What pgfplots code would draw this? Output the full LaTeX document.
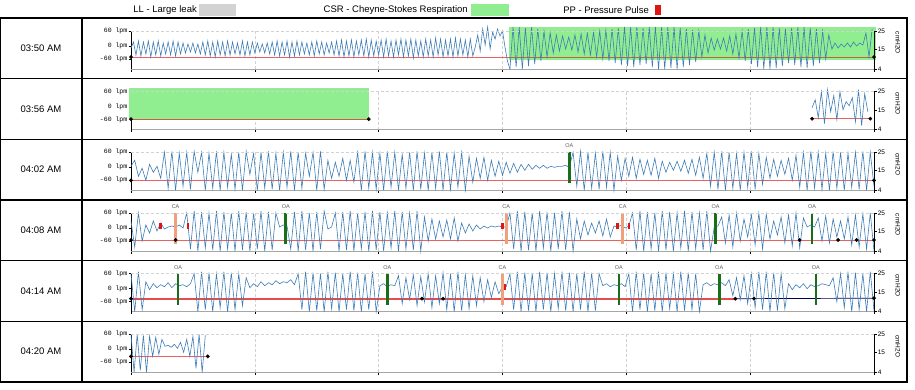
\documentclass[border=0pt]{standalone}
\usepackage{pgfplots}
\pgfplotsset{compat=1.18}
\usepackage{pgfplotstable}
\usepackage{fontspec}
\setmainfont{Liberation Sans}
\newfontfamily\monofont{Liberation Mono}
\definecolor{wavecol}{RGB}{62,124,182}
\definecolor{csrcol}{RGB}{144,238,144}
\definecolor{llgrey}{RGB}{211,211,211}
\definecolor{oagreen}{RGB}{25,110,25}
\definecolor{casalmon}{RGB}{240,160,125}
\definecolor{ppred}{RGB}{225,20,20}
\definecolor{prescol}{RGB}{225,45,45}
\newcommand{\tfont}{\fontsize{6.5}{7}\selectfont}
\newcommand{\bfontsz}{\fontsize{9.5}{11}\selectfont}

% ---------------- data (flow, plotted in axis units 0..42) ----------------
\pgfplotstableread[header=false,row sep=\\]{
21\\27\\14\\28\\13\\27\\15\\28\\12\\27\\
14\\28\\13\\26\\15\\27\\14\\28\\13\\27\\
15\\26\\16\\25\\17\\26\\16\\25\\15\\27\\
14\\28\\13\\27\\12\\28\\14\\27\\13\\28\\
14\\27\\15\\26\\14\\28\\13\\27\\14\\27\\
16\\26\\17\\25\\16\\26\\15\\27\\14\\28\\
13\\27\\14\\28\\12\\27\\13\\28\\14\\27\\
15\\26\\14\\27\\13\\28\\15\\27\\14\\26\\
16\\27\\14\\28\\13\\29\\12\\28\\13\\29\\
12\\28\\14\\29\\13\\30\\12\\29\\13\\28\\
14\\29\\12\\30\\13\\28\\12\\29\\14\\30\\
12\\29\\13\\30\\11\\29\\13\\28\\12\\30\\
13\\29\\12\\31\\14\\30\\12\\29\\13\\30\\
12\\31\\13\\30\\14\\29\\12\\30\\13\\
22\\34\\18\\40\\24\\42\\20\\37\\30\\40\\33\\38\\22\\8\\0\\
}\rA
\pgfplotstableread[header=false,row sep=\\]{
0\\
42\\2\\42\\0\\41\\3\\42\\5\\40\\8\\38\\
12\\36\\16\\34\\18\\33\\20\\32\\19\\34\\17\\35\\15\\36\\14\\37\\12\\38\\
10\\39\\8\\40\\6\\41\\4\\42\\3\\42\\2\\42\\4\\41\\5\\42\\
2\\42\\0\\42\\0\\42\\1\\42\\0\\41\\2\\40\\4\\39\\7\\38\\
12\\34\\16\\31\\19\\30\\20\\31\\18\\33\\15\\35\\
11\\38\\8\\40\\5\\41\\2\\42\\0\\42\\0\\42\\1\\41\\3\\40\\6\\41\\4\\42\\
2\\42\\1\\41\\3\\40\\6\\38\\10\\34\\
20\\26\\21\\25\\22\\26\\22\\27\\23\\26\\24\\
36\\12\\40\\
}\rC
\pgfplotstableread[header=false,row sep=\\]{
22\\30\\12\\38\\6\\40\\18\\34\\10\\38\\20\\28\\24\\32\\8\\40\\4\\36\\18\\
}\rB
\pgfplotstableread[header=false,row sep=\\]{
24\\30\\14\\22\\10\\26\\18\\24\\12\\
38\\2\\39\\0\\37\\4\\38\\1\\39\\18\\38\\0\\37\\2\\39\\0\\38\\3\\36\\1\\38\\0\\39\\16\\37\\0\\38\\2\\39\\1\\37\\0\\38\\3\\39\\0\\38\\2\\37\\14\\38\\0\\39\\1\\
30\\12\\28\\14\\32\\10\\30\\8\\
38\\0\\39\\2\\38\\1\\37\\0\\39\\3\\38\\0\\36\\2\\38\\0\\39\\1\\37\\0\\38\\2\\39\\0\\38\\1\\37\\3\\38\\0\\
34\\8\\32\\12\\33\\10\\30\\14\\
29\\15\\28\\17\\27\\18\\26\\20\\26\\21\\25\\22\\25\\22\\24\\23\\24\\
24\\25\\23\\
38\\4\\39\\0\\38\\2\\37\\1\\39\\3\\38\\0\\
34\\10\\32\\14\\33\\12\\31\\16\\30\\15\\32\\12\\
29\\18\\28\\20\\29\\19\\30\\17\\31\\15\\33\\12\\
37\\4\\38\\1\\39\\0\\38\\2\\37\\0\\38\\3\\39\\1\\37\\
6\\33\\12\\31\\14\\30\\16\\32\\10\\35\\
3\\38\\0\\39\\2\\38\\1\\37\\0\\39\\2\\38\\0\\37\\3\\38\\1\\39\\0\\38\\4\\
}\rD
\pgfplotstableread[header=false,row sep=\\]{
30\\4\\38\\10\\26\\
18\\30\\20\\28\\22\\
24\\25\\24\\26\\23\\
38\\2\\40\\0\\39\\3\\38\\1\\40\\0\\39\\2\\38\\0\\40\\1\\39\\0\\38\\2\\40\\0\\39\\1\\38\\
24\\26\\25\\
2\\39\\0\\40\\1\\38\\0\\39\\2\\40\\22\\24\\38\\0\\39\\1\\40\\0\\38\\2\\39\\0\\40\\
1\\39\\0\\38\\3\\40\\0\\39\\2\\38\\1\\40\\0\\
34\\10\\32\\12\\30\\14\\31\\12\\33\\10\\
28\\18\\27\\20\\26\\22\\25\\23\\25\\24\\25\\
24\\24\\
38\\2\\40\\0\\39\\1\\38\\0\\40\\3\\39\\0\\38\\2\\40\\1\\39\\0\\
32\\12\\30\\16\\28\\18\\30\\15\\32\\14\\
25\\24\\26\\23\\25\\
38\\1\\40\\0\\39\\2\\38\\0\\40\\1\\39\\0\\38\\3\\40\\0\\39\\2\\38\\1\\40\\0\\
24\\25\\
34\\8\\36\\4\\38\\10\\32\\14\\36\\6\\38\\2\\37\\12\\30\\16\\34\\8\\36\\5\\38\\3\\33\\
24\\26\\24\\
33\\10\\35\\8\\32\\14\\30\\12\\34\\6\\36\\4\\37\\2\\38\\
0\\
}\rE
\pgfplotstableread[header=false,row sep=\\]{
38\\0\\40\\2\\30\\
22\\28\\24\\27\\25\\29\\24\\28\\26\\27\\25\\28\\
38\\0\\40\\2\\39\\0\\38\\4\\40\\0\\39\\2\\38\\6\\34\\
24\\28\\25\\30\\26\\29\\27\\31\\28\\30\\29\\32\\27\\
38\\2\\40\\0\\39\\1\\38\\0\\40\\3\\39\\0\\38\\2\\40\\1\\39\\0\\38\\2\\40\\0\\
26\\28\\25\\27\\26\\
36\\8\\34\\12\\37\\6\\35\\10\\38\\4\\36\\8\\
39\\2\\38\\0\\40\\1\\37\\3\\36\\6\\34\\10\\32\\14\\30\\18\\
25\\25\\
38\\2\\40\\0\\39\\1\\38\\0\\40\\2\\39\\0\\38\\3\\40\\1\\39\\0\\38\\2\\40\\0\\39\\1\\38\\
26\\28\\25\\27\\26\\28\\25\\
38\\0\\40\\2\\39\\0\\38\\1\\40\\0\\39\\3\\38\\0\\40\\1\\39\\2\\38\\0\\
27\\29\\26\\28\\27\\29\\26\\
32\\16\\34\\12\\36\\8\\38\\4\\40\\2\\40\\0\\39\\1\\38\\3\\
28\\22\\27\\24\\28\\23\\27\\25\\26\\28\\27\\26\\
34\\10\\38\\4\\40\\0\\39\\2\\38\\0\\40\\1\\
}\rF
\pgfplotstableread[header=false,row sep=\\]{
38\\0\\38\\2\\37\\0\\36\\16\\35\\18\\33\\26\\27\\25\\28\\24\\30\\20\\33\\16\\36\\4\\38\\0\\37\\
}\rG

\tikzset{evl/.style={font=\fontsize{5.5}{6}\selectfont, text=black!65, inner sep=0pt}}
\pgfplotsset{
  rowaxis/.style={
    scale only axis, width=743pt, height=38pt,
    xmin=0, xmax=6, ymin=0, ymax=38, clip=false,
    axis x line*=bottom, axis y line*=left,
    x axis line style={draw=gray!70, line width=0.9pt, -},
    y axis line style={draw=black, line width=0.6pt, -},
    xtick={0,1,2,3,4,5,6}, xticklabels={},
    xmajorgrids, major grid style={densely dashed, gray!35, line width=0.5pt},
    ytick={10,23,38}, yticklabels={-60 lpm,0 lpm,60 lpm},
    tick align=outside, major tick length=2.5pt,
    tick style={black, line width=0.5pt},
    yticklabel style={font=\monofont\tfont, inner sep=1pt},
    anchor=south west,
  },
  wave/.style={color=wavecol, line width=0.6pt, no marks},
  pres/.style={color=prescol, opacity=0.75, line width=0.8pt, no marks},
  dots/.style={only marks, mark=*, mark size=1.7pt, black},
  csrfill/.style={fill=csrcol, draw=none, no marks},
}
\newcommand{\OA}[1]{\addplot[oagreen, line width=2.6pt, no marks] coordinates {(#1,7) (#1,38)};
  \node[evl] at (axis cs:#1,44.5) {OA};}
\newcommand{\CA}[1]{\addplot[casalmon, line width=2.6pt, no marks] coordinates {(#1,7) (#1,38)};
  \node[evl] at (axis cs:#1,44.5) {CA};}
\newcommand{\PP}[1]{\addplot[ppred, line width=2.6pt, no marks] coordinates {(#1,22) (#1,28)};}
\newcommand{\RA}{%
  \addplot[gray!35, densely dashed, line width=0.5pt, no marks] coordinates {(0,38) (6,38)};
  \draw[black, line width=0.6pt] (axis cs:6,0) -- (axis cs:6,38);
  \draw[black, line width=0.5pt] (axis cs:6,0) -- ++(2.5pt,0pt) node[right, inner sep=1pt, font=\tfont]{4};
  \draw[black, line width=0.5pt] (axis cs:6,19.9) -- ++(2.5pt,0pt) node[right, inner sep=1pt, font=\tfont]{15};
  \draw[black, line width=0.5pt] (axis cs:6,38) -- ++(2.5pt,0pt) node[right, inner sep=1pt, font=\tfont]{25};
  \node[rotate=-90, font=\tfont, inner sep=0pt] at (axis description cs:1.032,0.684) {cmH2O};
}

\begin{document}
\begin{tikzpicture}
\path[use as bounding box] (0pt,0pt) rectangle (915pt,-389pt);

% legend
\begin{scope}[x=1pt,y=-1pt]
\node[anchor=east, font=\bfontsz, inner sep=1pt] at (198,10) {LL - Large leak};
\fill[llgrey] (199,4) rectangle (236,16);
\node[anchor=east, font=\bfontsz, inner sep=1pt] at (469,10) {CSR - Cheyne-Stokes Respiration};
\fill[csrcol] (471,4) rectangle (509,16);
\node[anchor=east, font=\bfontsz, inner sep=1pt] at (650,10) {PP - Pressure Pulse};
\fill[ppred] (655,5) rectangle (661,15);
% time labels
\node[font=\bfontsz] at (41,48.3) {03:50 AM};
\node[font=\bfontsz] at (41,109) {03:56 AM};
\node[font=\bfontsz] at (41,169.7) {04:02 AM};
\node[font=\bfontsz] at (41,230.3) {04:08 AM};
\node[font=\bfontsz] at (41,291) {04:14 AM};
\node[font=\bfontsz] at (41,351.7) {04:20 AM};
\end{scope}

% row 1
\begin{axis}[rowaxis, at={(131pt,-69pt)}]
\addplot[csrfill] coordinates {(3.05,9) (6.02,9) (6.02,42) (3.05,42)} -- cycle;
\addplot[pres] coordinates {(0,12) (6,12)};
\addplot[wave] table[x expr=\coordindex*0.02, y index=0] {\rA};
\addplot[wave] table[x expr=3.06+\coordindex*0.025, y index=0] {\rC};
\addplot[dots] coordinates {(0,12) (6,12)};
\RA
\end{axis}

% row 2
\begin{axis}[rowaxis, at={(131pt,-129.7pt)}]
\addplot[csrfill] coordinates {(-0.016,9.5) (1.92,9.5) (1.92,42) (-0.016,42)} -- cycle;
\addplot[pres] coordinates {(0,10.5) (1.92,10.5)};
\addplot[pres] coordinates {(5.5,11) (5.97,11)};
\addplot[wave] table[x expr=5.5+\coordindex*0.025, y index=0] {\rB};
\addplot[dots] coordinates {(0,10.5) (1.92,10.5) (5.5,11) (5.97,11)};
\RA
\end{axis}

% row 3
\begin{axis}[rowaxis, at={(131pt,-190.3pt)}]
\addplot[pres] coordinates {(0,10) (6,10)};
\addplot[wave] table[x expr=\coordindex*0.03, y index=0] {\rD};
\OA{3.54}
\addplot[dots] coordinates {(0,10) (6,10)};
\RA
\end{axis}

% row 4
\begin{axis}[rowaxis, at={(131pt,-251pt)}]
\addplot[pres] coordinates {(0,11) (6,11)};
\addplot[wave] table[x expr=\coordindex*0.03, y index=0] {\rE};
\CA{0.36}\OA{1.25}\CA{3.03}\CA{3.97}\OA{4.72}\OA{5.5}
\PP{0.24}\PP{0.46}\PP{3.0}\PP{3.93}\PP{4.02}
\addplot[dots] coordinates {(0,11) (0.36,11) (5.4,11) (5.71,11) (5.86,11) (6,11)};
\RA
\end{axis}

% row 5
\begin{axis}[rowaxis, at={(131pt,-311.7pt)}]
\addplot[color=prescol, opacity=0.85, line width=1.6pt, no marks] coordinates {(0,13) (4.88,13)};
\addplot[color=black!70!blue, line width=0.7pt, no marks] coordinates {(4.88,13) (6,13.5)};
\addplot[wave] table[x expr=\coordindex*0.03, y index=0] {\rF};
\OA{0.38}\OA{2.07}\CA{3.0}\OA{3.94}\OA{4.75}\OA{5.53}
\PP{3.02}
\addplot[dots] coordinates {(0,13) (2.35,13) (2.52,13) (4.88,13) (5.03,13.1) (6,13.5)};
\RA
\end{axis}

% row 6
\begin{axis}[rowaxis, at={(131pt,-372.3pt)}]
\addplot[pres] coordinates {(0,16) (0.62,16)};
\addplot[wave] table[x expr=\coordindex*0.025, y index=0] {\rG};
\addplot[dots] coordinates {(0,16) (0.62,16)};
\RA
\end{axis}

% table frame
\begin{scope}[x=1pt,y=-1pt]
\draw[line width=1.2pt] (0.6,18) rectangle (907,382);
\foreach \yy in {78.7,139.3,200,260.7,321.3} {\draw[line width=1.2pt] (0.6,\yy) -- (907,\yy);}
\draw[line width=1.2pt] (82,18) -- (82,382);
\end{scope}
\end{tikzpicture}
\end{document}
